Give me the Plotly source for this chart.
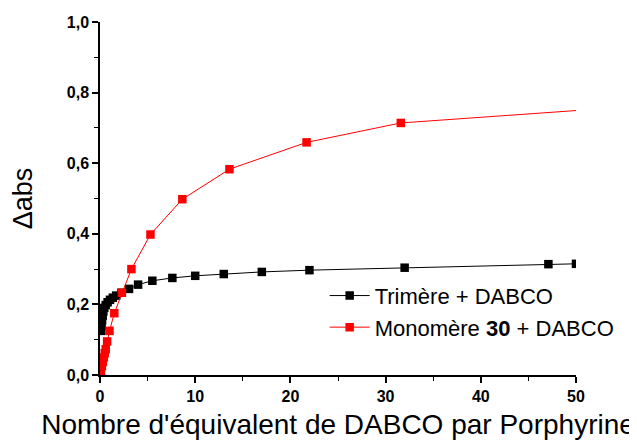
import plotly.graph_objects as go

# titration data
trimere_x = [0.12, 0.17, 0.22, 0.28, 0.35, 0.45, 0.6, 0.8, 1.05, 1.35, 1.7, 2.25,
             3.05, 4.0, 5.5, 7.6, 10.0, 13.0, 17.0, 22.0, 32.0, 47.1, 50.0]
trimere_y = [0.125, 0.14, 0.155, 0.168, 0.18, 0.19, 0.198, 0.206, 0.213, 0.219, 0.225, 0.233,
             0.244, 0.256, 0.267, 0.275, 0.281, 0.286, 0.292, 0.297, 0.304, 0.314, 0.315]

monomere_x = [0.0, 0.1, 0.2, 0.3, 0.4, 0.5, 0.6, 0.75, 1.0, 1.5, 2.3, 3.3,
              5.3, 8.65, 13.6, 21.7, 31.6, 63.0]
monomere_y = [0.0, 0.012, 0.025, 0.037, 0.05, 0.062, 0.073, 0.095, 0.125, 0.175, 0.233, 0.30,
              0.398, 0.498, 0.583, 0.659, 0.714, 0.774]

font = "Liberation Sans, Arial, sans-serif"

fig = go.Figure()
fig.add_trace(go.Scatter(
    x=trimere_x, y=trimere_y, mode="lines+markers", name="Trimère + DABCO",
    line=dict(color="black", width=1),
    marker=dict(symbol="square", size=8.5, color="black")
))
fig.add_trace(go.Scatter(
    x=monomere_x, y=monomere_y, mode="lines+markers", name="Monomère <b>30</b> + DABCO",
    line=dict(color="#ff0000", width=1),
    marker=dict(symbol="square", size=8.5, color="#ff0000")
))

# page has an 8px body margin, so the margins are shifted to compensate
fig.update_layout(
    width=637, height=443,
    margin=dict(l=92, r=69, t=14, b=76),
    plot_bgcolor="white", paper_bgcolor="white",
    separators=", ",
    font=dict(family=font, color="black"),
    legend=dict(x=0.472, y=0.284, xanchor="left", yanchor="top",
                font=dict(size=22, family=font), bgcolor="rgba(0,0,0,0)",
                tracegroupgap=0, itemwidth=40),
    showlegend=True,
)
fig.update_xaxes(
    range=[0, 50], dtick=10, tickformat="d", automargin=False,
    showline=True, linecolor="black", linewidth=1.5, mirror=False,
    ticks="outside", ticklen=6, tickwidth=1.5, tickcolor="black",
    minor=dict(dtick=5, ticks="outside", ticklen=4, tickwidth=1, tickcolor="black"),
    showgrid=False, zeroline=False,
    tickfont=dict(size=16, family=font, weight="bold"),
    title=dict(text="Nombre d'équivalent de DABCO par Porphyrine",
               font=dict(size=28, family=font), standoff=10),
)
fig.update_yaxes(
    range=[0, 1], dtick=0.2, tickformat=".1f", automargin=False,
    showline=True, linecolor="black", linewidth=1.5, mirror=False,
    ticks="outside", ticklen=6, tickwidth=1.5, tickcolor="black",
    minor=dict(dtick=0.1, ticks="outside", ticklen=4, tickwidth=1, tickcolor="black"),
    showgrid=False, zeroline=False,
    tickfont=dict(size=16, family=font, weight="bold"),
    title=dict(text="Δabs", font=dict(size=27, family=font), standoff=37),
)

fig.write_html("out.html")
